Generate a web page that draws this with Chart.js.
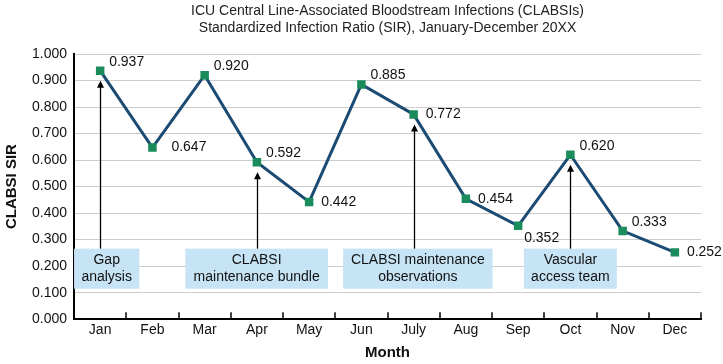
<!DOCTYPE html>
<html lang="en">
<head>
  <meta charset="UTF-8" />
  <title>CLABSI SIR</title>
  <style>
    body { margin: 0; background: #fff; }
    .wrap { width: 723px; height: 364px; }
  </style>
</head>
<body>
  <div class="wrap"><canvas id="sirChart" width="723" height="364"></canvas></div>

  <script src="https://cdn.jsdelivr.net/npm/chart.js"></script>
  <script>
    const months = ['Jan', 'Feb', 'Mar', 'Apr', 'May', 'Jun', 'July', 'Aug', 'Sep', 'Oct', 'Nov', 'Dec'];
    const sirValues = [0.937, 0.647, 0.920, 0.592, 0.442, 0.885, 0.772, 0.454, 0.352, 0.620, 0.333, 0.252];
    // where each value label sits next to its point
    const labelSide = ['above', 'far', 'above', 'above', 'right', 'above', 'right', 'right', 'below', 'above', 'above', 'right'];

    // interventions: text lines, month the arrow points at, box span in category units
    const noteLines = [['Gap', 'analysis'], ['CLABSI', 'maintenance bundle'], ['CLABSI maintenance', 'observations'], ['Vascular', 'access team']];
    const noteMonth = [0, 3, 6, 9];
    const noteFrom = [-0.5, 1.63, 4.65, 8.11];
    const noteTo = [0.75, 4.36, 7.51, 9.89];
    const noteLow = 0.115;
    const noteHigh = 0.266;

    const font = 'Arial, "Liberation Sans", sans-serif';

    const notesPlugin = {
      id: 'notes',
      beforeDatasetsDraw(chart) {
        const { ctx, scales: { x, y } } = chart;
        const meta = chart.getDatasetMeta(0);
        ctx.save();
        // tick marks pointing up from the x axis at category boundaries
        ctx.strokeStyle = '#000';
        ctx.lineWidth = 1.5;
        for (let i = 0; i <= months.length; i++) {
          const px = Math.round(x.getPixelForValue(i - 0.5));
          ctx.beginPath();
          ctx.moveTo(px, y.bottom);
          ctx.lineTo(px, y.bottom - 7);
          ctx.stroke();
        }
        noteLines.forEach((lines, i) => {
          const x1 = x.getPixelForValue(noteFrom[i]);
          const x2 = x.getPixelForValue(noteTo[i]);
          const yTop = y.getPixelForValue(noteHigh);
          const yBot = y.getPixelForValue(noteLow);
          ctx.fillStyle = '#c6e4f5';
          ctx.fillRect(x1, yTop, x2 - x1, yBot - yTop);
          ctx.fillStyle = '#111';
          ctx.font = '14px ' + font;
          ctx.textAlign = 'center';
          ctx.textBaseline = 'middle';
          const cx = (x1 + x2) / 2;
          const cy = (yTop + yBot) / 2;
          ctx.fillText(lines[0], cx, cy - 8.5);
          ctx.fillText(lines[1], cx, cy + 8.5);
          // arrow up to the point
          const pt = meta.data[noteMonth[i]];
          const ax = Math.round(pt.x) + 0.5;
          const tip = pt.y + 10;
          ctx.strokeStyle = '#000';
          ctx.lineWidth = 1.3;
          ctx.beginPath();
          ctx.moveTo(ax, yTop);
          ctx.lineTo(ax, tip + 5);
          ctx.stroke();
          ctx.fillStyle = '#000';
          ctx.beginPath();
          ctx.moveTo(ax, tip);
          ctx.lineTo(ax - 3.5, tip + 7);
          ctx.lineTo(ax + 3.5, tip + 7);
          ctx.closePath();
          ctx.fill();
        });
        ctx.restore();
      },
      afterDatasetsDraw(chart) {
        const { ctx } = chart;
        const meta = chart.getDatasetMeta(0);
        ctx.save();
        ctx.font = '14px ' + font;
        ctx.fillStyle = '#111';
        ctx.textAlign = 'left';
        ctx.textBaseline = 'middle';
        meta.data.forEach((pt, i) => {
          let dx = 12, dy = 0;
          if (labelSide[i] === 'above') { dx = 9; dy = -9; }
          if (labelSide[i] === 'below') { dx = 6; dy = 12; }
          if (labelSide[i] === 'far') { dx = 19; dy = 0; }
          ctx.fillText(sirValues[i].toFixed(3), pt.x + dx, pt.y + dy);
        });
        ctx.restore();
      }
    };

    new Chart(document.getElementById('sirChart'), {
      type: 'line',
      data: {
        labels: months,
        datasets: [{
          data: sirValues,
          borderColor: '#1b4a73',
          borderWidth: 3,
          pointStyle: 'rect',
          pointRadius: 6,
          pointBackgroundColor: '#1a8c5b',
          pointBorderColor: '#1a8c5b',
          pointBorderWidth: 0,
          tension: 0
        }]
      },
      options: {
        responsive: false,
        animation: false,
        layout: { padding: { left: 3, right: 22, top: 2, bottom: 2 } },
        plugins: {
          legend: { display: false },
          tooltip: { enabled: false },
          title: {
            display: true,
            fullSize: false,
            text: ['ICU Central Line-Associated Bloodstream Infections (CLABSIs)', 'Standardized Infection Ratio (SIR), January-December 20XX'],
            color: '#222',
            font: { family: font, size: 14, weight: 'normal', lineHeight: 1.25 },
            padding: { top: 0, bottom: 17 }
          }
        },
        scales: {
          x: {
            offset: true,
            grid: { display: false, offset: true, drawTicks: false },
            border: { color: '#000', width: 2 },
            ticks: { color: '#111', font: { family: font, size: 14 }, padding: 3 },
            title: { display: true, text: 'Month', color: '#111', font: { family: font, size: 15, weight: 'bold' }, padding: { top: 2, bottom: 0 } }
          },
          y: {
            min: 0,
            max: 1,
            grid: { color: '#cccccc', lineWidth: 1, drawTicks: false },
            border: { color: '#000', width: 2 },
            ticks: {
              stepSize: 0.1,
              padding: 7,
              color: '#111',
              font: { family: font, size: 14 },
              callback: v => v.toFixed(3)
            },
            title: { display: true, text: 'CLABSI SIR', color: '#111', font: { family: font, size: 15, weight: 'bold' }, padding: { top: 0, bottom: 4 } }
          }
        }
      },
      plugins: [notesPlugin]
    });
  </script>
</body>
</html>
